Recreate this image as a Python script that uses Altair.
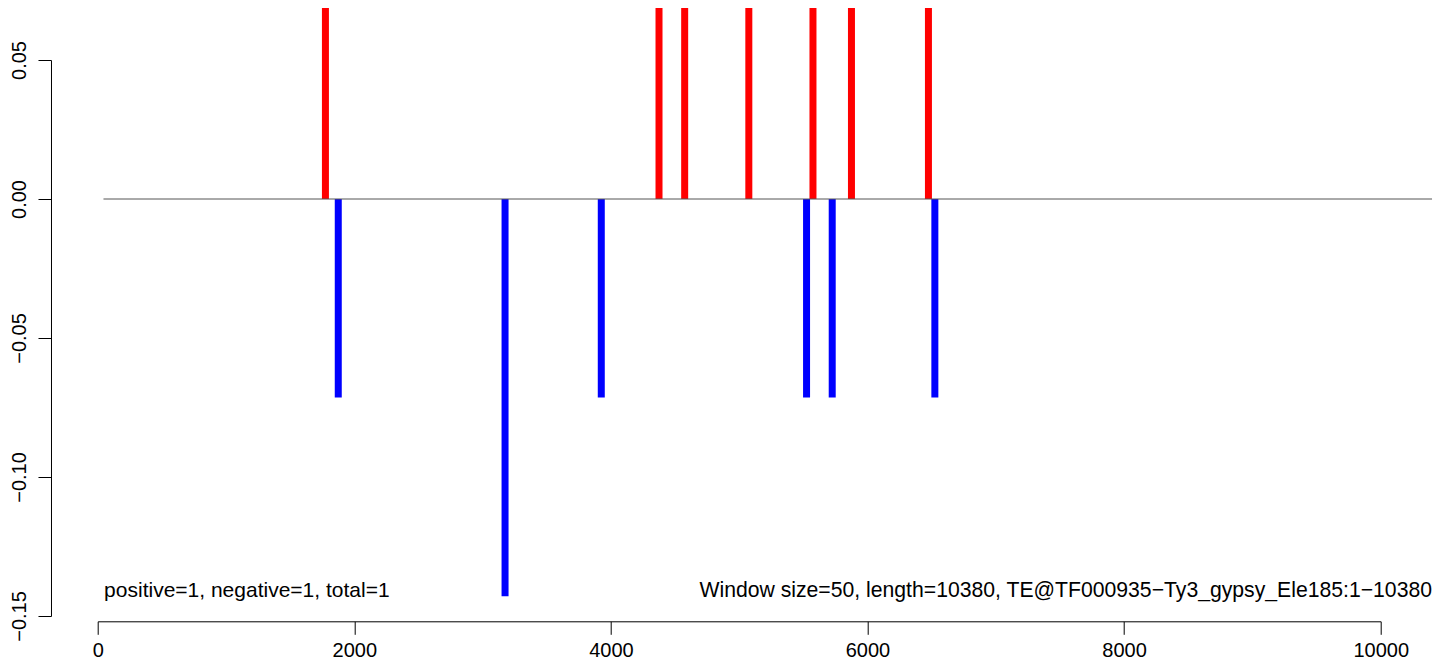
import altair as alt
import pandas as pd

# ---- data ----
pos_x = [1775, 4375, 4575, 5075, 5575, 5875, 6475]
pos_y = [0.0714, 0.0714, 0.0714, 0.0714, 0.0714, 0.0714, 0.0714]
neg_x = [1875, 3175, 3925, 5525, 5725, 6525]
neg_y = [-0.0714, -0.1429, -0.0714, -0.0714, -0.0714, -0.0714]

base_x = [45, 10400]
base_y = [0.0, 0.0]

x_ticks = [0, 2000, 4000, 6000, 8000, 10000]
y_ticks = [-0.15, -0.10, -0.05, 0.00, 0.05]

left_label = "positive=1, negative=1, total=1"
right_label = "Window size=50, length=10380, TE@TF000935\u2212Ty3_gypsy_Ele185:1\u221210380"
label_x = [50, 10400]
label_y = [-0.1433, -0.1433]

FONT = "Liberation Sans"

bars_df = pd.DataFrame({
    "x": pos_x + neg_x,
    "y": pos_y + neg_y,
    "y0": [0.0] * (len(pos_x) + len(neg_x)),
    "sign": ["pos"] * len(pos_x) + ["neg"] * len(neg_x),
})
base_df = pd.DataFrame({"x": [base_x[0]], "x2": [base_x[1]], "y": [base_y[0]]})
text_df = pd.DataFrame({
    "x": label_x,
    "y": label_y,
    "t": [left_label, right_label],
})

xscale = alt.Scale(domain=[0, 10000], nice=False, zero=False)
yscale = alt.Scale(domain=[-0.15, 0.05], nice=False, zero=False)

xaxis = alt.Axis(
    values=x_ticks, format="d", title=None, grid=False,
    offset=5.3, tickSize=13, labelPadding=22, labelBaseline="alphabetic",
    labelFont=FONT, labelFontSize=20, labelColor="black",
    domainColor="black", tickColor="black", domainWidth=1, tickWidth=1,
    labelFlush=False, labelOverlap=False,
)
yaxis = alt.Axis(
    values=y_ticks, format=".2f", title=None, grid=False,
    offset=46.7, tickSize=13, labelPadding=12, labelAngle=270,
    labelAlign="center", labelBaseline="alphabetic",
    labelFont=FONT, labelFontSize=20, labelColor="black",
    domainColor="black", tickColor="black", domainWidth=1, tickWidth=1,
    labelFlush=False, labelOverlap=False,
)

bars = alt.Chart(bars_df).mark_rule(strokeWidth=7, strokeCap="butt").encode(
    x=alt.X("x:Q", scale=xscale, axis=xaxis),
    y=alt.Y("y0:Q", scale=yscale, axis=yaxis),
    y2="y:Q",
    color=alt.Color("sign:N", scale=alt.Scale(domain=["pos", "neg"], range=["#ff0000", "#0000ff"]), legend=None),
)

base = alt.Chart(base_df).mark_rule(strokeWidth=1, color="#555555").encode(
    x=alt.X("x:Q", scale=xscale),
    x2="x2:Q",
    y=alt.Y("y:Q", scale=yscale),
)

txt_left = alt.Chart(text_df.iloc[[0]]).mark_text(
    align="left", baseline="alphabetic", font=FONT, fontSize=21, color="black"
).encode(x=alt.X("x:Q", scale=xscale), y=alt.Y("y:Q", scale=yscale), text="t:N")

txt_right = alt.Chart(text_df.iloc[[1]]).mark_text(
    align="right", baseline="alphabetic", font=FONT, fontSize=21.2, color="black"
).encode(x=alt.X("x:Q", scale=xscale), y=alt.Y("y:Q", scale=yscale), text="t:N")

# page is 1444x669 with an 8px body margin: keep the svg within 1428x653
chart = alt.layer(bars, base, txt_left, txt_right).properties(
    width=1283, height=556,
    autosize=alt.AutoSizeParams(type="none"),
    padding={"left": 89.7, "top": 52, "right": 55.3, "bottom": 45},
    background="white",
).configure_view(stroke=None)

chart.save("out.html", embed_options={"renderer": "svg", "actions": False})
